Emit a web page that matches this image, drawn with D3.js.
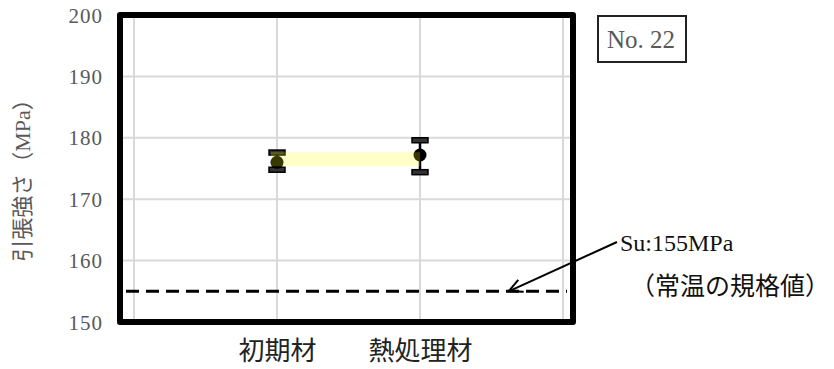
<!DOCTYPE html>
<html>
<head>
<meta charset="utf-8">
<script src="https://cdn.jsdelivr.net/npm/d3@7"></script>
<style>
  html, body { margin: 0; padding: 0; background: #fff; }
  svg { display: block; }
</style>
</head>
<body>
<svg id="chart" width="834" height="369"></svg>
<script>
// Tensile strength before / after heat treatment (specimen No. 22)
const categories = ["初期材", "熱処理材"];
const meanValues = [176.0, 177.2];
const minValues  = [174.8, 174.4];
const maxValues  = [177.6, 179.6];
const bandValues = [176.5, 176.5];
const yTicks = [150, 160, 170, 180, 190, 200];
const specValue = 155;
const specLabel = "Su:155MPa";
const specNote = "（常温の規格値）";
const sampleLabel = "No. 22";
const yTitle = "引張強さ";
const yUnit = "（MPa）";

const svg = d3.select("#chart");
const frame = { left: 120, right: 573, top: 15, bottom: 322 };

// category slots 1 and 2 inside an outer 0..3 domain
const x = d3.scaleLinear().domain([0, 3]).range([134, 563]);
const y = d3.scaleLinear().domain([150, 200]).range([frame.bottom, frame.top]);

const serif = "'Liberation Serif', 'DejaVu Serif', 'Noto Sans CJK JP', serif";
const sans = "'Noto Sans CJK JP', 'Noto Sans', sans-serif";

// gridlines
const grid = svg.append("g");
grid.selectAll("line.h").data(yTicks.filter(v => v > 150 && v < 200)).join("line")
  .attr("x1", frame.left).attr("x2", frame.right)
  .attr("y1", d => y(d)).attr("y2", d => y(d))
  .attr("stroke", "#d9d9d9").attr("stroke-width", 2);
grid.selectAll("line.v").data([0, 1, 2, 3]).join("line")
  .attr("x1", d => x(d)).attr("x2", d => x(d))
  .attr("y1", frame.top).attr("y2", frame.bottom)
  .attr("stroke", "#d9d9d9").attr("stroke-width", 2);

// spec limit line
svg.append("line")
  .attr("x1", frame.left + 6).attr("x2", frame.right - 6)
  .attr("y1", y(specValue)).attr("y2", y(specValue))
  .attr("stroke", "#000").attr("stroke-width", 3)
  .attr("stroke-dasharray", "13,7");

// y axis tick labels
const yAxis = d3.axisLeft(y).tickValues(yTicks).tickSize(0).tickPadding(0);
const ya = svg.append("g").attr("transform", "translate(103,0)").call(yAxis);
ya.select(".domain").remove();
ya.selectAll("text")
  .attr("font-family", serif).attr("font-size", 21).attr("fill", "#595959")
  .attr("letter-spacing", 1).attr("dy", "0.34em");

// y axis title
const yt = svg.append("text")
  .attr("transform", `translate(30,175) rotate(-90)`)
  .attr("text-anchor", "middle").attr("fill", "#595959").attr("font-size", 22);
yt.append("tspan").attr("font-family", sans).text(yTitle);
yt.append("tspan").attr("font-family", serif).text(yUnit);

// category labels
const xAxis = d3.axisBottom(x).tickValues([1, 2]).tickFormat(d => categories[d - 1]).tickSize(0).tickPadding(0);
const xa = svg.append("g").attr("transform", `translate(0,${frame.bottom + 30})`).call(xAxis);
xa.select(".domain").remove();
xa.selectAll("text")
  .attr("font-family", sans).attr("font-size", 26).attr("fill", "#222").attr("dy", "0.3em");

// error bars and mean markers
const pts = categories.map((c, i) => ({ i: i + 1, mean: meanValues[i], lo: minValues[i], hi: maxValues[i] }));
const eb = svg.append("g");
eb.selectAll("line").data(pts).join("line")
  .attr("x1", d => x(d.i)).attr("x2", d => x(d.i))
  .attr("y1", d => y(d.lo)).attr("y2", d => y(d.hi))
  .attr("stroke", "#000").attr("stroke-width", 2.5);
eb.selectAll("rect.cap").data(pts.flatMap(d => [{ i: d.i, v: d.lo }, { i: d.i, v: d.hi }])).join("rect")
  .attr("x", d => x(d.i) - 8).attr("y", d => y(d.v) - 2.5)
  .attr("width", 16).attr("height", 5)
  .attr("fill", "#333").attr("stroke", "#000").attr("stroke-width", 1.5);
eb.selectAll("circle").data(pts).join("circle")
  .attr("cx", d => x(d.i)).attr("cy", d => y(d.mean)).attr("r", 6.5)
  .attr("fill", "#000");

// translucent connecting band
svg.append("line")
  .attr("x1", x(1) - 6).attr("x2", x(2))
  .attr("y1", y(bandValues[0])).attr("y2", y(bandValues[1]))
  .attr("stroke", "rgba(255,255,0,0.22)").attr("stroke-width", 14);

// plot frame
svg.append("rect")
  .attr("x", frame.left).attr("y", frame.top)
  .attr("width", frame.right - frame.left).attr("height", frame.bottom - frame.top)
  .attr("fill", "none").attr("stroke", "#000").attr("stroke-width", 6)
  .attr("stroke-linejoin", "round");

// sample number box
const nb = svg.append("g");
nb.append("rect").attr("x", 598).attr("y", 16).attr("width", 88).attr("height", 46)
  .attr("fill", "#fff").attr("stroke", "#222").attr("stroke-width", 2);
nb.append("text").attr("x", 641).attr("y", 39).attr("dy", "0.35em")
  .attr("text-anchor", "middle").attr("font-family", serif).attr("font-size", 25)
  .attr("fill", "#595959").text(sampleLabel);

// spec annotation with arrow
const tipX = x(2.62), tipY = y(specValue);
const startX = 617, startY = 242;
svg.append("line").attr("x1", startX).attr("y1", startY).attr("x2", tipX).attr("y2", tipY)
  .attr("stroke", "#000").attr("stroke-width", 2);
const ang = Math.atan2(startY - tipY, startX - tipX);
const head = 15, spread = 0.45;
svg.append("path")
  .attr("d", `M${tipX + head * Math.cos(ang - spread)},${tipY + head * Math.sin(ang - spread)} L${tipX},${tipY} L${tipX + head * Math.cos(ang + spread)},${tipY + head * Math.sin(ang + spread)}`)
  .attr("fill", "none").attr("stroke", "#000").attr("stroke-width", 2);
svg.append("text").attr("x", 620).attr("y", 243).attr("dy", "0.35em")
  .attr("font-family", serif).attr("font-size", 24).attr("fill", "#111").text(specLabel);
svg.append("text").attr("x", 630).attr("y", 286).attr("dy", "0.35em")
  .attr("font-family", sans).attr("font-size", 25).attr("fill", "#111").text(specNote);
</script>
</body>
</html>
